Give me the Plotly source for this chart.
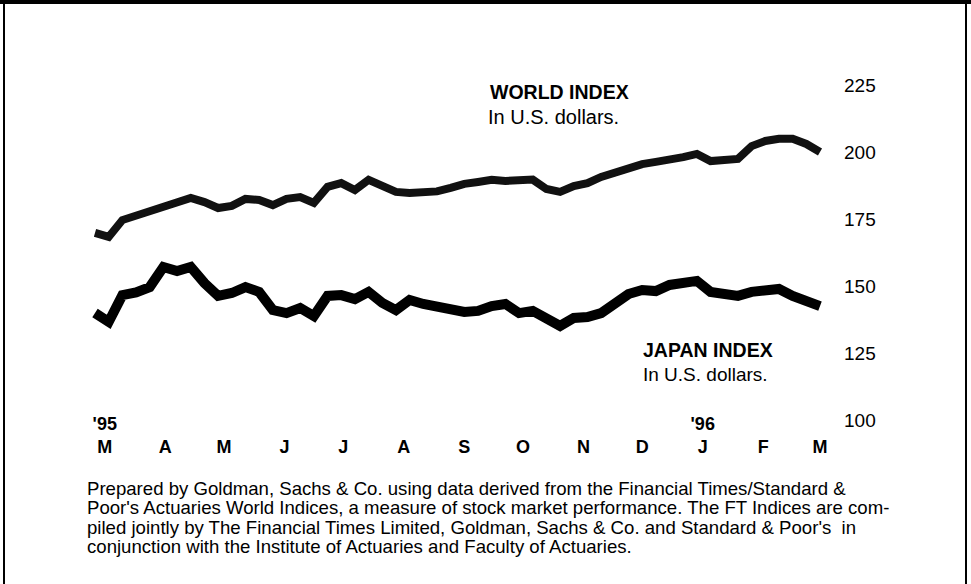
import plotly.graph_objects as go
import pandas as pd

# ---- data ----
week_start = "1995-02-24"
n_weeks = 54
world_index = [169.8, 168.3, 174.6, 176.3, 177.6, 179.7, 180.8, 182.9, 181.3, 179.1,
               179.9, 182.5, 182.1, 180.2, 182.5, 183.2, 181.0, 187.0, 188.4, 185.8,
               189.6, 187.3, 185.1, 184.7, 184.7, 185.3, 186.6, 188.1, 188.8, 189.6,
               189.2, 189.2, 189.7, 186.2, 185.1, 187.3, 188.4, 190.7, 192.5, 194.0,
               195.5, 196.3, 197.0, 198.1, 199.3, 196.6, 197.0, 197.4, 202.2, 204.1,
               204.9, 204.9, 203.0, 200.0]
japan_index = [139.9, 136.6, 146.6, 147.6, 149.6, 157.1, 155.6, 157.1, 151.1, 146.3,
               147.4, 149.6, 147.8, 141.0, 139.9, 141.8, 138.8, 146.3, 146.6, 145.1,
               147.8, 143.7, 141.0, 144.8, 143.3, 142.5, 141.4, 140.3, 140.7, 142.5,
               143.3, 139.9, 140.7, 138.1, 135.1, 138.1, 138.4, 139.9, 143.7, 147.0,
               148.5, 148.1, 150.4, 150.7, 151.9, 147.8, 146.6, 146.3, 147.8, 148.5,
               148.9, 146.3, 144.4, 142.5]
month_ticks = ["1995-03-01", "1995-04-01", "1995-05-01", "1995-06-01", "1995-07-01",
               "1995-08-01", "1995-09-01", "1995-10-01", "1995-11-01", "1995-12-01",
               "1996-01-01", "1996-02-01", "1996-03-01"]
month_labels = ["M", "A", "M", "J", "J", "A", "S", "O", "N", "D", "J", "F", "M"]
year_labels = ["'95", "", "", "", "", "", "", "", "", "", "'96", "", ""]
y_ticks = [100, 125, 150, 175, 200, 225]

dates = pd.date_range(week_start, periods=n_weeks, freq="7D")

W, H = 971, 584
FONT = "Liberation Sans, Arial, Helvetica, sans-serif"

# axis geometry
px_left, px_right = 95.0, 820.0          # pixel span of the lines
px_per_day = (px_right - px_left) / (dates[-1] - dates[0]).days
dom_right = 843.0
x0 = dates[0] - pd.Timedelta(days=px_left / px_per_day)
x1 = dates[0] + pd.Timedelta(days=(dom_right - px_left) / px_per_day)
y_top_px, y_per = 85.0, 67.0 / 25.0       # 225 at pixel 85, 2.68 px per unit
y_hi = 225 + y_top_px / y_per
y_lo = 225 - (H - y_top_px) / y_per

ticktext = [f"{y if y else chr(160)}<br>{m}" for y, m in zip(year_labels, month_labels)]

fig = go.Figure()
fig.add_trace(go.Scatter(x=dates, y=world_index, mode="lines",
                         line=dict(color="#111111", width=8), name="World Index",
                         hoverinfo="skip"))
fig.add_trace(go.Scatter(x=dates, y=japan_index, mode="lines",
                         line=dict(color="#000000", width=10), name="Japan Index",
                         hoverinfo="skip"))

def px(xp):
    return xp / W

def py(yp):
    return 1 - yp / H

ann = []
ann.append(dict(text="WORLD INDEX", x=px(488), y=py(92), font=dict(size=19.5, weight="bold")))
ann.append(dict(text="In U.S. dollars.", x=px(486), y=py(117), font=dict(size=20)))
ann.append(dict(text="JAPAN INDEX", x=px(641), y=py(350), font=dict(size=19.5, weight="bold")))
ann.append(dict(text="In U.S. dollars.", x=px(641), y=py(374), font=dict(size=19)))

footer = [
    "Prepared by Goldman, Sachs & Co. using data derived from the Financial Times/Standard &",
    "Poor's Actuaries World Indices, a measure of stock market performance. The FT Indices are com-",
    "piled jointly by The Financial Times Limited, Goldman, Sachs & Co. and Standard & Poor's  in",
    "conjunction with the Institute of Actuaries and Faculty of Actuaries.",
]
for i, line in enumerate(footer):
    ann.append(dict(text=line, x=px(85), y=py(488 + 19.5 * i), font=dict(size=18.6)))

for a in ann:
    a.update(xref="paper", yref="paper", xanchor="left", yanchor="middle",
             showarrow=False)
    a["font"].update(family=FONT, color="black")

shapes = [
    dict(type="line", xref="paper", yref="paper", x0=0, x1=1, y0=py(2), y1=py(2),
         line=dict(color="black", width=4)),
    dict(type="line", xref="paper", yref="paper", x0=px(4), x1=px(4), y0=0, y1=1,
         line=dict(color="black", width=2)),
    dict(type="line", xref="paper", yref="paper", x0=px(966), x1=px(966), y0=0, y1=1,
         line=dict(color="black", width=2)),
]

fig.update_layout(
    width=W, height=H,
    margin=dict(l=0, r=0, t=0, b=0),
    paper_bgcolor="white", plot_bgcolor="white",
    showlegend=False,
    font=dict(family=FONT, color="black"),
    annotations=ann, shapes=shapes,
    xaxis=dict(type="date", domain=[0, dom_right / W], range=[x0, x1],
               anchor="free", position=py(411),
               showgrid=False, zeroline=False, showline=False, ticks="",
               tickvals=month_ticks, ticktext=ticktext,
               tickfont=dict(size=18, weight="bold", family=FONT, color="black")),
    yaxis=dict(range=[y_lo, y_hi], domain=[0, 1], side="right", anchor="x",
               showgrid=False, zeroline=False, showline=False, ticks="",
               tickvals=y_ticks,
               tickfont=dict(size=19, family=FONT, color="black")),
)

fig.write_html("out.html",
               config={"displayModeBar": False, "staticPlot": True},
               post_script="document.body.style.margin='0';document.body.style.overflow='hidden';")
